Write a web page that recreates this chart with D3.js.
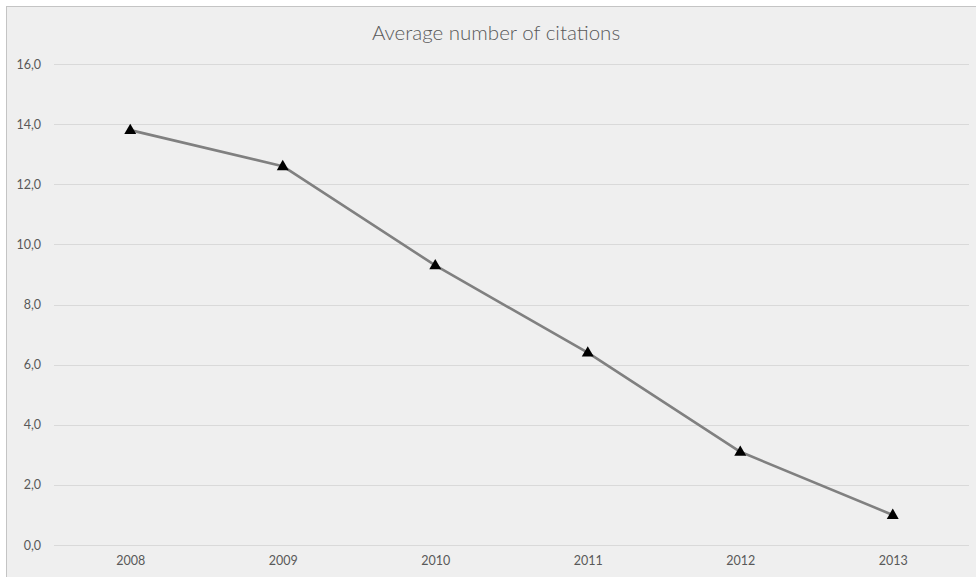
<!DOCTYPE html>
<html>
<head>
<meta charset="utf-8">
<script src="https://cdn.jsdelivr.net/npm/d3@7"></script>
<style>
  html, body { margin: 0; padding: 0; background: #ffffff; }
  svg { display: block; }
</style>
</head>
<body>
<svg id="chart" width="976" height="577"></svg>
<script>
// Chart data
const years = ["2008", "2009", "2010", "2011", "2012", "2013"];
const citations = [13.8, 12.6, 9.3, 6.4, 3.1, 1.0];
const yTicks = [0, 2, 4, 6, 8, 10, 12, 14, 16];
const chartTitle = "Average number of citations";

const W = 976, H = 577;
const plot = { left: 54, right: 969, top: 64, bottom: 545 };
const fontFamily = "Lato, 'Open Sans', 'DejaVu Sans', sans-serif";

const svg = d3.select("#chart");

// Chart area with its light grey frame
svg.append("rect")
  .attr("x", 6.5).attr("y", 6.5)
  .attr("width", W + 10).attr("height", H + 10)
  .attr("fill", "#efefef")
  .attr("stroke", "#c4c4c4")
  .attr("stroke-width", 1);

const x = d3.scalePoint()
  .domain(years)
  .range([plot.left, plot.right])
  .padding(0.5);

const y = d3.scaleLinear()
  .domain([0, 16])
  .range([plot.bottom, plot.top]);

const locale = d3.formatLocale({ decimal: ",", thousands: ".", grouping: [3], currency: ["", ""] });
const fmt = locale.format(".1f");

// Horizontal gridlines and value labels
const yAxis = d3.axisLeft(y)
  .tickValues(yTicks)
  .tickFormat(fmt)
  .tickSize(-(plot.right - plot.left))
  .tickPadding(13);

const gy = svg.append("g")
  .attr("transform", `translate(${plot.left},0)`)
  .call(yAxis);
gy.select(".domain").remove();
gy.selectAll(".tick line")
  .attr("stroke", "#d9d9d9")
  .attr("stroke-width", 1)
  .attr("shape-rendering", "crispEdges");
gy.selectAll(".tick text")
  .attr("fill", "#595959")
  .style("font-family", fontFamily)
  .style("font-size", "12.5px");

// Category labels
const xAxis = d3.axisBottom(x).tickSize(0).tickPadding(11);
const gx = svg.append("g")
  .attr("transform", `translate(0,${plot.bottom})`)
  .call(xAxis);
gx.select(".domain").remove();
gx.selectAll(".tick text")
  .attr("fill", "#595959")
  .style("font-family", fontFamily)
  .style("font-size", "12.5px");

// Title
svg.append("text")
  .attr("x", 496)
  .attr("y", 40)
  .attr("text-anchor", "middle")
  .attr("fill", "#595959")
  .style("font-family", fontFamily)
  .style("font-weight", 300)
  .style("font-size", "20.5px")
  .text(chartTitle);

// Series line
const pts = years.map((yr, i) => [x(yr), y(citations[i])]);
svg.append("path")
  .datum(pts)
  .attr("fill", "none")
  .attr("stroke", "#808080")
  .attr("stroke-width", 2.6)
  .attr("stroke-linejoin", "round")
  .attr("d", d3.line());

// Triangle markers
svg.append("g")
  .selectAll("path")
  .data(pts)
  .join("path")
  .attr("transform", d => `translate(${d[0]},${d[1] + 0.5})`)
  .attr("fill", "#000000")
  .attr("d", d3.symbol().type(d3.symbolTriangle).size(62));
</script>
</body>
</html>
